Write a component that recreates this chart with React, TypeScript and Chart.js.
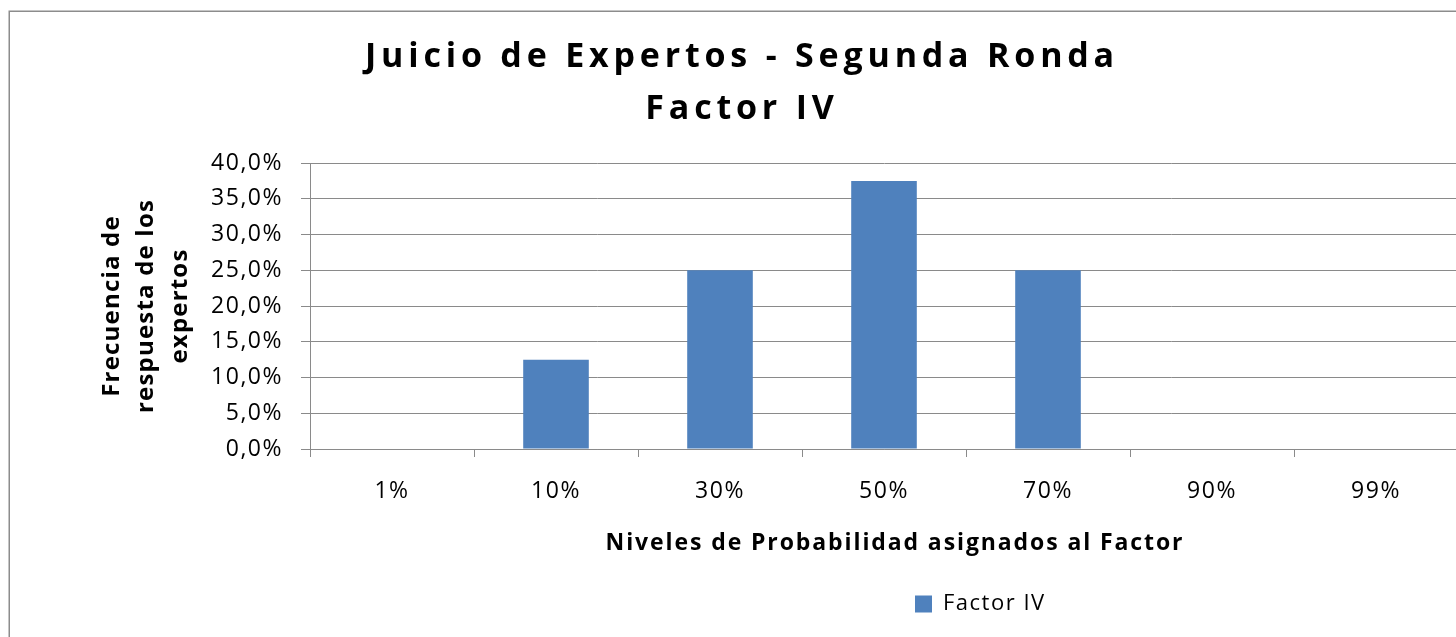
import React, { useEffect, useRef } from 'react';
import { Chart, registerables } from 'chart.js';

Chart.register(...registerables);

const categories = ['1%', '10%', '30%', '50%', '70%', '90%', '99%'];
const factorIV = [0, 0.125, 0.25, 0.375, 0.25, 0, 0];
const seriesName = 'Factor IV';
const titleLines = ['Juicio de Expertos - Segunda Ronda', 'Factor IV'];
const yTitleLines = ['Frecuencia de', 'respuesta de los', 'expertos'];
const xTitle = 'Niveles de Probabilidad asignados al Factor';
const yMin = 0;
const yMax = 0.4;
const yStep = 0.05;

const FONT = '"Open Sans"';
const GRID = '#8a8a8a';

function spaced(chart: any, obj: any, method: string, spacing: string, dx = 0) {
  if (!obj || obj['__sp_' + method]) return;
  const orig = obj[method];
  obj[method] = function (...args: any[]) {
    const ctx = chart.ctx;
    const prev = ctx.letterSpacing;
    ctx.save();
    ctx.translate(dx, 0);
    ctx.letterSpacing = spacing;
    try {
      return orig.apply(this, args);
    } finally {
      ctx.restore();
      ctx.letterSpacing = prev;
    }
  };
  obj['__sp_' + method] = true;
}

const framePlugin = {
  id: 'frame',
  beforeDraw(chart: any) {
    spaced(chart, chart.titleBlock, 'draw', '4.8px', 2);
    spaced(chart, chart.legend, 'draw', '1.5px');
    spaced(chart, chart.scales.x, 'drawLabels', '1.5px');
    spaced(chart, chart.scales.y, 'drawLabels', '1.5px');
    spaced(chart, chart.scales.x, 'drawTitle', '1.9px', 11);
    spaced(chart, chart.scales.y, 'drawTitle', '1.2px');
    if (chart.legend) {
      chart.legend.left = 905;
    }
    const ctx = chart.ctx;
    ctx.save();
    ctx.strokeStyle = '#8c8c8c';
    ctx.lineWidth = 1.5;
    ctx.strokeRect(9.25, 11.25, 3000, 3000);
    ctx.restore();
  },
};

export default function App() {
  const ref = useRef<HTMLCanvasElement | null>(null);

  useEffect(() => {
    if (!ref.current) return;
    const chart = new Chart(ref.current, {
      type: 'bar',
      data: {
        labels: categories,
        datasets: [
          {
            label: seriesName,
            data: factorIV,
            backgroundColor: '#4F81BD',
            borderWidth: 0,
            barPercentage: 0.4,
            categoryPercentage: 1,
          },
        ],
      },
      options: {
        responsive: false,
        animation: false,
        layout: { padding: { left: 22, right: 22, top: 0, bottom: 35 } },
        plugins: {
          title: {
            display: true,
            text: titleLines,
            color: '#000',
            font: { family: FONT, size: 34, weight: 'bold', lineHeight: 1.55 },
            padding: { top: 30.6, bottom: 27 },
          },
          legend: {
            display: true,
            position: 'bottom',
            align: 'start',
            labels: {
              color: '#000',
              font: { family: FONT, size: 22 },
              boxWidth: 17,
              boxHeight: 17,
              padding: 10,
            },
          },
          tooltip: { enabled: false },
        },
        scales: {
          x: {
            afterFit: (s: any) => {
              s.height = 134;
            },
            grid: {
              drawOnChartArea: false,
              drawTicks: true,
              tickLength: 8,
              color: GRID,
              offset: true,
            },
            border: { color: GRID },
            ticks: {
              color: '#000',
              font: { family: FONT, size: 23, lineHeight: 1.2 },
              padding: 21,
              maxRotation: 0,
            },
            title: {
              display: true,
              text: xTitle,
              color: '#000',
              font: { family: FONT, size: 23, weight: 'bold', lineHeight: 1.2 },
              padding: { top: 2, bottom: 26.2 },
            },
          },
          y: {
            min: yMin,
            max: yMax,
            afterFit: (s: any) => {
              s.width = 288;
            },
            grid: {
              color: GRID,
              tickLength: 9,
            },
            border: { color: GRID },
            ticks: {
              stepSize: yStep,
              color: '#000',
              font: { family: FONT, size: 23, lineHeight: 1.2 },
              padding: 18,
              callback: (v: any) => (Number(v) * 100).toFixed(1).replace('.', ',') + '%',
            },
            title: {
              display: true,
              text: yTitleLines,
              color: '#000',
              font: { family: FONT, size: 24, weight: 'bold', lineHeight: 1.42 },
              padding: { top: 73, bottom: 0 },
            },
          },
        },
      },
      plugins: [framePlugin],
    });
    return () => chart.destroy();
  }, []);

  return (
    <div
      style={{
        position: 'fixed',
        left: 0,
        top: 0,
        width: 1456,
        height: 637,
        overflow: 'hidden',
        background: '#fff',
      }}
    >
      <canvas ref={ref} width={1480} height={660} style={{ display: 'block' }} />
    </div>
  );
}
